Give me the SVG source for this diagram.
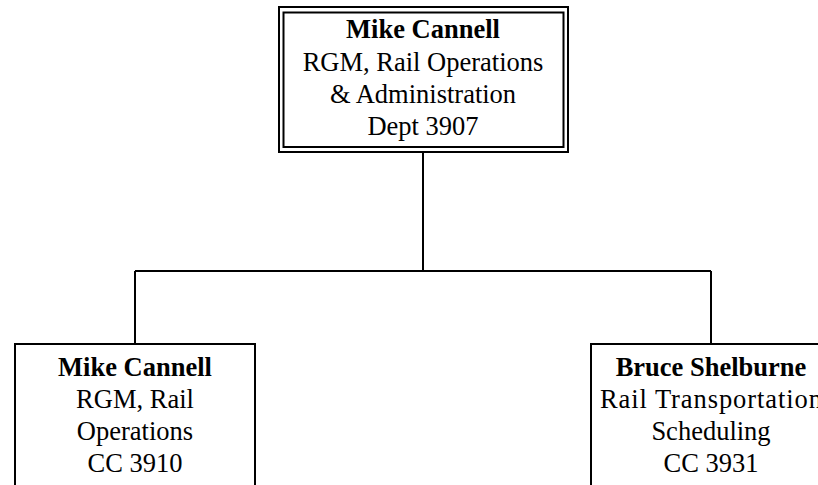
<svg xmlns="http://www.w3.org/2000/svg" width="818" height="485" viewBox="0 0 818 485">
<style>
.box{fill:#fff;stroke:#000;stroke-width:2}
.ln{fill:none;stroke:#000;stroke-width:2}
text{font-family:"Liberation Serif","Times New Roman",serif;font-size:26.5px;fill:#000;text-anchor:middle}
.b{font-weight:bold}
</style>
<rect width="818" height="485" fill="#fff"/>
<g id="connectors">
<path class="ln" d="M423 152 V271 M135 271 H711 M135 271 V344 M711 271 V344"/>
</g>
<g id="top">
<rect class="box" x="279" y="7" width="289" height="145"/>
<rect class="box" x="283.5" y="12.5" width="280" height="134.5"/>
<text x="423" y="38" class="b">Mike Cannell</text>
<text x="423" y="71">RGM, Rail Operations</text>
<text x="423" y="103">&amp; Administration</text>
<text x="423" y="135">Dept 3907</text>
</g>
<g id="left">
<rect class="box" x="15" y="344" width="240" height="150"/>
<text x="135" y="376" class="b">Mike Cannell</text>
<text x="135" y="408">RGM, Rail</text>
<text x="135" y="440">Operations</text>
<text x="135" y="472">CC 3910</text>
</g>
<g id="right">
<rect class="box" x="591" y="344" width="240" height="150"/>
<text x="711" y="376" class="b">Bruce Shelburne</text>
<text x="711" y="408" textLength="222" lengthAdjust="spacing">Rail Transportation</text>
<text x="711" y="440">Scheduling</text>
<text x="711" y="472">CC 3931</text>
</g>
</svg>
